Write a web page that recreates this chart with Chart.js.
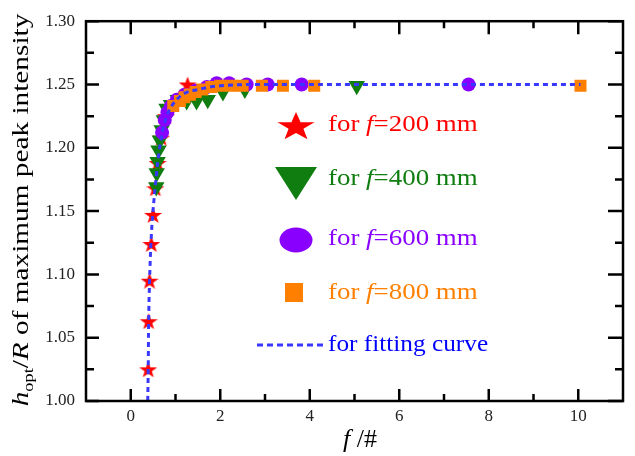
<!DOCTYPE html>
<html>
<head>
<meta charset="utf-8">
<style>
  html, body { margin: 0; padding: 0; background: #fff; }
  #wrap { width: 635px; height: 456px; }
</style>
<script src="https://cdn.jsdelivr.net/npm/chart.js@4.4.0/dist/chart.umd.min.js"></script>
</head>
<body>
<div id="wrap"><canvas id="chart" width="635" height="456"></canvas></div>
<script>
// Tick values
const xTicks = [0, 2, 4, 6, 8, 10];
const xMinorTicks = [1, 3, 5, 7, 9];
const yTicks = [1.0, 1.05, 1.1, 1.15, 1.2, 1.25, 1.3];
const yMinorTicks = [1.025, 1.075, 1.125, 1.175, 1.225, 1.275];

// f = 200 mm (red stars)
const f200X = [0.39, 0.40, 0.42, 0.46, 0.50, 0.55, 0.60, 0.68, 0.78, 0.95, 1.27];
const f200Y = [1.025, 1.063, 1.095, 1.124, 1.147, 1.168, 1.188, 1.208, 1.225, 1.236, 1.250];

// f = 400 mm (green triangles)
const f400X = [0.57, 0.58, 0.60, 0.62, 0.65, 0.69, 0.74, 0.80, 0.90, 1.05, 1.25, 1.47, 1.72, 2.06, 2.55, 5.05];
const f400Y = [1.169, 1.180, 1.189, 1.198, 1.206, 1.214, 1.222, 1.231, 1.234, 1.238, 1.237, 1.237, 1.238, 1.244, 1.246, 1.249];

// f = 600 mm (purple circles)
const f600X = [0.70, 0.76, 0.82, 0.90, 1.03, 1.20, 1.45, 1.70, 1.92, 2.20, 2.59, 3.06, 3.82, 7.55];
const f600Y = [1.212, 1.222, 1.228, 1.233, 1.238, 1.242, 1.245, 1.248, 1.251, 1.251, 1.250, 1.250, 1.250, 1.250];

// f = 800 mm (orange squares)
const f800X = [0.95, 1.10, 1.20, 1.32, 1.45, 1.60, 1.80, 2.00, 2.25, 2.50, 2.93, 3.40, 4.10, 10.05];
const f800Y = [1.233, 1.237, 1.240, 1.242, 1.244, 1.246, 1.248, 1.249, 1.249, 1.249, 1.249, 1.249, 1.249, 1.249];

// fitting curve
const fitX = [0.38, 0.39, 0.40, 0.42, 0.45, 0.49, 0.55, 0.60, 0.67, 0.75, 0.85, 1.00, 1.20, 1.50, 2.00, 3.00, 5.00, 10.05];
const fitY = [1.000, 1.025, 1.062, 1.094, 1.124, 1.147, 1.170, 1.188, 1.205, 1.219, 1.229, 1.237, 1.243, 1.246, 1.249, 1.250, 1.250, 1.250];

const SERIF = "'Liberation Serif', 'Times New Roman', serif";

const colors = {
  red: "#ff0000",
  green: "#0f7d0f",
  purple: "#8a00ff",
  orange: "#ff8000",
  blue: "#3838ff",
  text: "#222222",
};

function toPoints(xs, ys) {
  return xs.map((x, i) => ({ x: x, y: ys[i] }));
}

function starPath(ctx, cx, cy, rx, ry) {
  ctx.beginPath();
  for (let i = 0; i < 10; i++) {
    const a = -Math.PI / 2 + (i * Math.PI) / 5;
    const r = i % 2 ? 0.4 : 1;
    const px = cx + Math.cos(a) * rx * r;
    const py = cy + Math.sin(a) * ry * r;
    if (i === 0) ctx.moveTo(px, py);
    else ctx.lineTo(px, py);
  }
  ctx.closePath();
}

// star marker as an image, the library has no filled star
function makeStar(w, h, color) {
  const c = document.createElement("canvas");
  c.width = w;
  c.height = h;
  const g = c.getContext("2d");
  g.fillStyle = color;
  starPath(g, w / 2, h * 0.55, w / 1.902, h / 1.809);
  g.fill();
  return c;
}

// draw a row of text pieces (italic / subscript) with an optional stretch
function drawRich(ctx, segs, x, y, size, color, stretch, align) {
  ctx.save();
  ctx.fillStyle = color;
  ctx.textBaseline = "middle";
  const fontOf = (s) =>
    (s.it ? "italic " : "") + Math.round(s.sub ? size * 0.62 : size) + "px " + SERIF;
  let total = 0;
  segs.forEach((s) => {
    ctx.font = fontOf(s);
    s.w = ctx.measureText(s.t).width;
    total += s.w;
  });
  ctx.translate(x, y);
  ctx.scale(stretch, 1);
  let cx = align === "center" ? -total / 2 : 0;
  segs.forEach((s) => {
    ctx.font = fontOf(s);
    ctx.fillText(s.t, cx, s.sub ? size * 0.28 : 0);
    cx += s.w;
  });
  ctx.restore();
}

const framePlugin = {
  id: "frame",
  afterDraw(chart) {
    const ctx = chart.ctx;
    const a = chart.chartArea;
    const xs = chart.scales.x;
    const ys = chart.scales.y;

    ctx.save();
    ctx.strokeStyle = "#000";
    ctx.lineWidth = 2.5;
    ctx.strokeRect(a.left, a.top, a.right - a.left, a.bottom - a.top);

    // inward ticks on all four sides
    ctx.beginPath();
    xTicks.forEach((v) => {
      const p = xs.getPixelForValue(v);
      ctx.moveTo(p, a.bottom); ctx.lineTo(p, a.bottom - 12);
      ctx.moveTo(p, a.top); ctx.lineTo(p, a.top + 13);
    });
    xMinorTicks.forEach((v) => {
      const p = xs.getPixelForValue(v);
      ctx.moveTo(p, a.bottom); ctx.lineTo(p, a.bottom - 7);
      ctx.moveTo(p, a.top); ctx.lineTo(p, a.top + 7);
    });
    yTicks.forEach((v) => {
      const p = ys.getPixelForValue(v);
      ctx.moveTo(a.left, p); ctx.lineTo(a.left + 13, p);
      ctx.moveTo(a.right, p); ctx.lineTo(a.right - 15, p);
    });
    yMinorTicks.forEach((v) => {
      const p = ys.getPixelForValue(v);
      ctx.moveTo(a.left, p); ctx.lineTo(a.left + 8, p);
      ctx.moveTo(a.right, p); ctx.lineTo(a.right - 8, p);
    });
    ctx.stroke();
    ctx.restore();

    // legend
    ctx.save();
    ctx.fillStyle = colors.red;
    starPath(ctx, 296, 127, 19.5, 15);
    ctx.fill();

    ctx.fillStyle = colors.green;
    ctx.beginPath();
    ctx.moveTo(275, 167);
    ctx.lineTo(317, 167);
    ctx.lineTo(296, 200);
    ctx.closePath();
    ctx.fill();

    ctx.fillStyle = colors.purple;
    ctx.beginPath();
    ctx.ellipse(296, 240, 16.5, 12.5, 0, 0, Math.PI * 2);
    ctx.fill();

    ctx.fillStyle = colors.orange;
    ctx.fillRect(285, 283, 18, 19);

    ctx.strokeStyle = colors.blue;
    ctx.lineWidth = 3;
    ctx.setLineDash([6, 4]);
    ctx.beginPath();
    ctx.moveTo(257, 345);
    ctx.lineTo(327, 345);
    ctx.stroke();
    ctx.restore();

    const rows = [
      ["200", colors.red, 125],
      ["400", colors.green, 179],
      ["600", colors.purple, 239],
      ["800", colors.orange, 293],
    ];
    rows.forEach((r) => {
      drawRich(ctx, [{ t: "for " }, { t: "f", it: true }, { t: "=" + r[0] + " mm" }],
        328, r[2], 23, r[1], 1.17, "left");
    });
    drawRich(ctx, [{ t: "for fitting curve" }], 328, 345, 23, "#0000ff", 1.1, "left");

    // axis titles
    drawRich(ctx, [{ t: "f", it: true }, { t: " /#" }], 360, 440, 26, "#000", 1, "center");

    ctx.save();
    ctx.translate(22, 210);
    ctx.rotate(-Math.PI / 2);
    drawRich(ctx, [
      { t: "h", it: true },
      { t: "opt", sub: true },
      { t: "/" },
      { t: "R", it: true },
      { t: " of maximum peak intensity" },
    ], 0, 0, 24, "#000", 1.22, "center");
    ctx.restore();
  },
};

const starImg = makeStar(18, 16, colors.red);

new Chart(document.getElementById("chart"), {
  type: "scatter",
  data: {
    datasets: [
      {
        label: "for fitting curve",
        data: toPoints(fitX, fitY),
        showLine: true,
        pointRadius: 0,
        borderColor: colors.blue,
        borderWidth: 3,
        borderDash: [5, 4],
        cubicInterpolationMode: "monotone",
        order: 0,
      },
      {
        label: "for f=800 mm",
        data: toPoints(f800X, f800Y),
        pointStyle: "rect",
        pointRadius: 8.5,
        backgroundColor: colors.orange,
        borderWidth: 0,
        order: 1,
      },
      {
        label: "for f=600 mm",
        data: toPoints(f600X, f600Y),
        pointStyle: "circle",
        pointRadius: 7,
        backgroundColor: colors.purple,
        borderWidth: 0,
        order: 2,
      },
      {
        label: "for f=400 mm",
        data: toPoints(f400X, f400Y),
        pointStyle: "triangle",
        rotation: 180,
        pointRadius: 9.5,
        backgroundColor: colors.green,
        borderWidth: 0,
        order: 3,
      },
      {
        label: "for f=200 mm",
        data: toPoints(f200X, f200Y),
        pointStyle: starImg,
        pointRadius: 9,
        backgroundColor: colors.red,
        borderWidth: 0,
        order: 4,
      },
    ],
  },
  options: {
    responsive: false,
    animation: false,
    devicePixelRatio: 1,
    layout: { padding: { top: 7, right: 12, left: 0, bottom: 0 } },
    plugins: {
      legend: { display: false },
      tooltip: { enabled: false },
    },
    scales: {
      x: {
        type: "linear",
        min: -1,
        max: 11,
        afterBuildTicks: (s) => { s.ticks = xTicks.map((v) => ({ value: v })); },
        afterFit: (s) => { s.height = 55; },
        grid: { display: false, drawTicks: false },
        border: { display: false },
        ticks: {
          color: colors.text,
          padding: 5,
          font: { family: SERIF, size: 17 },
          maxRotation: 0,
        },
      },
      y: {
        type: "linear",
        min: 1.0,
        max: 1.3,
        afterBuildTicks: (s) => { s.ticks = yTicks.map((v) => ({ value: v })); },
        afterFit: (s) => { s.width = 86; },
        grid: { display: false, drawTicks: false },
        border: { display: false },
        ticks: {
          color: colors.text,
          padding: 11,
          font: { family: SERIF, size: 17 },
          callback: (v) => v.toFixed(2),
        },
      },
    },
  },
  plugins: [framePlugin],
});
</script>
</body>
</html>
